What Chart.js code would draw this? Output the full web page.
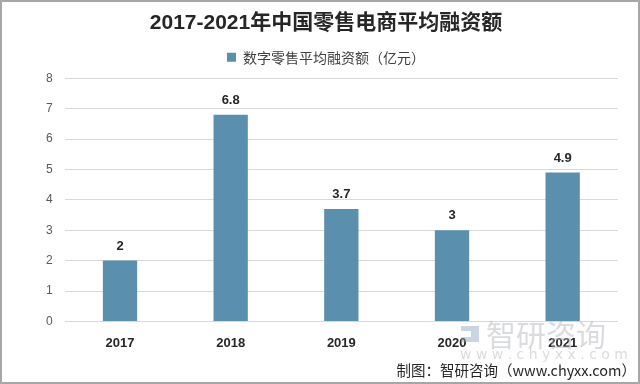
<!DOCTYPE html>
<html><head><meta charset="utf-8">
<script src="https://cdn.jsdelivr.net/npm/chart.js@4/dist/chart.umd.min.js"></script>
<style>html,body{margin:0;padding:0;background:#fff}#wrap{width:640px;height:384px;position:relative}</style>
</head><body><div id="wrap"><canvas id="c" width="640" height="384"></canvas></div>
<script>
const categories = ['2017', '2018', '2019', '2020', '2021'];
const values = [2, 6.8, 3.7, 3, 4.9];
const yTicks = [0, 1, 2, 3, 4, 5, 6, 7, 8];
const titleText = '2017-2021年中国零售电商平均融资额';
const seriesName = '数字零售平均融资额（亿元）';
const sourceText = '制图：智研咨询（www.chyxx.com）';

const extras = {
  id: 'extras',
  beforeLayout(chart) {
    const lg = chart.legend;
    if (lg && !lg._patched) {
      const orig = lg.fit.bind(lg);
      lg.fit = function () { orig(); this.height += 4; };
      lg._patched = true;
    }
  },
  afterDatasetsDraw(chart) {
    const ctx = chart.ctx;
    const meta = chart.getDatasetMeta(0);
    ctx.save();
    ctx.fillStyle = '#262626';
    ctx.font = 'bold 13px "Liberation Sans", "Noto Sans CJK SC", sans-serif';
    ctx.textAlign = 'center';
    ctx.textBaseline = 'bottom';
    meta.data.forEach((bar, i) => {
      ctx.fillText(String(values[i]), bar.x, bar.y - 8);
    });
    ctx.restore();
  },
  afterDraw(chart) {
    const ctx = chart.ctx;
    ctx.save();
    // watermark
    ctx.fillStyle = 'rgba(170,175,185,0.45)';
    ctx.font = '30px "Noto Sans CJK SC", sans-serif';
    ctx.textAlign = 'left';
    ctx.textBaseline = 'middle';
    ctx.fillText('智研咨询', 486, 335);
    ctx.font = '14px "DejaVu Sans", sans-serif';
    ctx.fillText('w w w . c h y x x . c o m', 460, 355);
    ctx.fillStyle = 'rgba(140,160,190,0.45)';
    ctx.fillRect(461, 326, 18, 5);
    ctx.fillRect(471, 331, 8, 6);
    ctx.fillRect(461, 337, 18, 5);
    // source
    ctx.fillStyle = '#262626';
    ctx.font = '14.5px "Noto Sans CJK SC", sans-serif';
    ctx.textAlign = 'right';
    ctx.textBaseline = 'middle';
    ctx.fillText(sourceText, 636, 370);
    // border
    ctx.strokeStyle = '#a6a6a6';
    ctx.lineWidth = 2;
    ctx.strokeRect(1, 1, 638, 382);
    ctx.restore();
  }
};

new Chart(document.getElementById('c'), {
  type: 'bar',
  data: {
    labels: categories,
    datasets: [{
      label: seriesName,
      data: values,
      backgroundColor: '#5b8fae',
      borderWidth: 0,
      categoryPercentage: 0.62,
      barPercentage: 0.5
    }]
  },
  options: {
    responsive: false,
    animation: false,
    devicePixelRatio: 1,
    layout: { padding: { left: 34, right: 22, top: 6, bottom: 27 } },
    plugins: {
      title: {
        display: true,
        text: titleText,
        color: '#262626',
        font: { size: 21, weight: 'bold', family: '"Liberation Sans", "Noto Sans CJK SC", sans-serif' },
        padding: { top: 5, bottom: 6 }
      },
      legend: {
        display: true,
        labels: {
          color: '#404040',
          boxWidth: 9, boxHeight: 9,
          font: { size: 14, family: '"Noto Sans CJK SC", sans-serif' },
          padding: 8
        }
      },
      tooltip: { enabled: false }
    },
    scales: {
      x: {
        grid: { display: false },
        border: { display: false },
        ticks: { color: '#262626', font: { size: 13, weight: 'bold', family: '"Liberation Sans", sans-serif' }, padding: 6 }
      },
      y: {
        min: 0, max: 8,
        afterBuildTicks(axis) { axis.ticks = yTicks.map(v => ({ value: v })); },
        grid: { color: '#d9d9d9', drawTicks: false },
        border: { display: false },
        ticks: { color: '#595959', font: { size: 12, family: '"Liberation Sans", sans-serif' }, padding: 12 }
      }
    }
  },
  plugins: [extras]
});
</script></body></html>
